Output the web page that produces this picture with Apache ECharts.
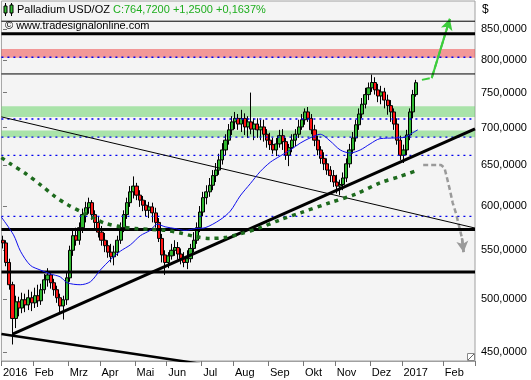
<!DOCTYPE html>
<html><head><meta charset="utf-8">
<script src="https://cdn.jsdelivr.net/npm/echarts@6/dist/echarts.min.js"></script>
<style>html,body{margin:0;padding:0;background:#fff}#c{width:531px;height:380px}</style>
</head><body><div id="c"></div>
<script>
// ---- axis / tick data ----
const monthLabels = ['2016','Feb','Mrz','Apr','Mai','Jun','Jul','Aug','Sep','Okt','Nov','Dez','2017','Feb'];
const monthStart  = [0,10,21,31,42,52,63,73,84,95,105,116,126,139];
const slotCount = 149;
const yTicks = [450,500,550,600,650,700,750,800,850];

// ---- price bars (2-day bars) ----
const opens = [561,558,537,514,481,497,491,499,494,501,
 496,503,498,509,519,524,516,509,501,493,
 499,521,550,566,561,575,590,598,604,590,
 581,570,561,555,548,543,548,561,575,590,
 604,617,624,613,607,601,595,599,592,581,
 563,545,537,544,550,553,546,541,537,541,
 552,561,575,593,610,617,625,637,644,657,
 670,683,697,708,713,705,713,701,708,698,
 705,697,701,691,683,677,670,678,689,681,
 663,673,683,691,701,711,722,713,697,683,
 670,659,652,644,637,629,624,626,634,652,
 670,686,704,719,733,747,757,765,754,745,
 751,739,731,722,705,683,663,670,690,722,
 747];
const closes = [558,537,514,481,497,491,499,494,501,496,
 503,498,509,519,524,516,509,501,493,499,
 521,550,566,561,575,590,598,604,590,581,
 570,561,555,548,543,548,561,575,590,604,
 617,624,613,607,601,595,599,592,581,563,
 545,537,544,550,553,546,541,537,541,552,
 561,575,593,610,617,625,637,644,657,670,
 683,697,708,713,705,713,701,708,698,705,
 697,701,691,683,677,670,678,689,681,663,
 673,683,691,701,711,722,713,697,683,670,
 659,652,644,637,629,624,626,634,652,670,
 686,704,719,733,747,757,765,754,745,751,
 739,731,722,705,683,663,670,690,722,747,
 764.72];
const lows = [552,533,509,457,472,483,486,487,489,488,
 491,492,494,505,512,510,503,496,487,480,
 494,517,544,555,556,569,581,591,584,572,
 564,555,548,542,537,534,544,557,570,585,
 599,609,607,599,594,588,586,581,575,559,
 537,524,531,540,544,540,535,532,530,537,
 548,557,570,588,602,611,619,629,638,651,
 663,677,690,698,697,694,690,686,691,683,
 686,683,681,673,670,665,662,673,670,657,
 649,667,675,686,697,704,708,691,675,663,
 652,644,638,629,623,615,613,619,629,647,
 665,681,697,713,727,739,751,747,736,733,
 727,718,708,697,677,657,653,663,683,713,
 744];
const highs = [566,561,541,517,503,502,506,505,509,507,
 511,514,515,525,531,527,520,513,505,503,
 527,555,572,575,581,597,605,610,607,595,
 588,577,569,561,557,555,566,581,595,610,
 624,636,628,619,612,607,605,604,598,586,
 568,550,548,557,561,559,552,548,550,557,
 570,581,600,617,625,634,644,653,665,679,
 691,705,716,722,719,725,720,716,750,713,
 713,711,711,698,693,686,686,697,698,686,
 678,691,698,711,719,727,729,719,704,689,
 675,667,659,649,644,638,632,641,659,678,
 694,711,727,742,757,765,777,773,763,760,
 757,747,739,727,713,689,677,697,727,754,
 769];

// ---- indicators [slot, price] ----
const maFast = [[-0.5,587],[3.3,567],[5.5,549],[8.6,534],[11.8,529],[14.9,525],[18,522],[20.2,516],[24.3,514],[27.5,517],[30.6,529],[33.8,540],[36.9,549],[40.1,556],[43.2,566],[46.3,572],[48.5,579],[51,576],[54.2,574],[57.3,572],[60.5,574],[63.6,575],[68.3,584],[71.5,594],[74.6,612],[77.8,627],[80.9,642],[84.1,654],[87.2,662],[90.4,670],[93.5,679],[96.6,686],[99.8,691],[102.9,682],[106.1,670],[109.2,666],[112.4,670],[115.5,678],[118.6,685],[123.4,686],[126.6,687],[128.9,693],[130.5,697]];
const maSlow = [[-0.5,660],[2.3,652],[7,640],[12,625],[16.5,611],[20.6,601],[25.3,592],[29,585],[32.2,580],[37,576],[41.6,574],[46.3,573],[51.1,572],[55.8,569],[60.5,565],[65.2,563],[69.9,564],[74.6,568],[80.9,575],[87.2,584],[93.5,592],[102.9,604],[110.8,614],[118.6,628],[124.9,636],[130.6,644]];

// ---- drawings ----
const thickLevels = [842, 573, 527];
const thinLevels = [863, 778];
const dottedLevels = [804, 712, 687, 663, 588];
const greenZones = [[715, 730], [687, 696]];
const redZones = [[803, 817]];
const trendThin = [[-0.5, 715], [148.5, 574.6]];
const trendRise = [[3, 466.5], [148.5, 698.2]];
const trendLow = [[-0.5, 466.5], [62, 440]];
const bullPath = [[131.8, 769], [134.9, 772], [140.6, 867]];
const bearPath = [[132.2, 650.5], [137.8, 650.5], [138.9, 646.7], [139.7, 634], [140.6, 619.2], [141.5, 603.6], [142.5, 591.8], [143.4, 578], [144.4, 563.4], [144.9, 548]];

const FONT = 'Liberation Sans';
const chart = echarts.init(document.getElementById('c'), null, {renderer: 'canvas'});
const isMonth = i => monthStart.indexOf(i) >= 0;
const cats = Array.from({length: slotCount}, (_, i) => String(i));
const span = [-0.5, slotCount - 0.5];

const series = [];
series.push({
  type: 'candlestick', xAxisIndex: 0, z: 2,
  data: opens.map((o, i) => [o, closes[i], lows[i], highs[i]]),
  barWidth: 3.6,
  itemStyle: {color: '#2fb82f', color0: '#ff1414', borderColor: '#000', borderColor0: '#000', borderWidth: 1}
});
function flat(v, style, z) {
  series.push({type: 'line', xAxisIndex: 1, z: z || 5, symbol: 'none', silent: true,
    data: [[span[0], v], [span[1], v]], lineStyle: style});
}
thinLevels.forEach(v => flat(v, {color: '#000', width: 1}));
thickLevels.forEach(v => flat(v, {color: '#000', width: 3}));
dottedLevels.forEach(v => flat(v, {color: '#0000ee', width: 1.3, type: [2, 4]}));
// zones
series.push({type: 'line', xAxisIndex: 1, z: 4, symbol: 'none', silent: true, data: [[0, 700]], lineStyle: {opacity: 0},
  markArea: {silent: true, data: greenZones.map(z => [{yAxis: z[1], itemStyle: {color: 'rgba(100,210,100,0.52)'}}, {yAxis: z[0]}])
    .concat(redZones.map(z => [{yAxis: z[1], itemStyle: {color: 'rgba(240,60,60,0.5)'}}, {yAxis: z[0]}]))}
});
// trend lines
[[trendThin, 1], [trendRise, 3], [trendLow, 2.5]].forEach(([d, w]) => series.push({
  type: 'line', xAxisIndex: 1, z: 5, symbol: 'none', silent: true, data: d, lineStyle: {color: '#000', width: w}
}));
// moving averages
series.push({type: 'line', xAxisIndex: 1, z: 5, symbol: 'none', smooth: 0.3, data: maFast, lineStyle: {color: '#1010ee', width: 1}});
series.push({type: 'line', xAxisIndex: 1, z: 5, symbol: 'none', smooth: 0.3, data: maSlow, lineStyle: {color: '#1d6a1d', width: 3.5, type: [4, 5]}});
// projection arrows
function arrowPath(d, color, w, dash) {
  series.push({type: 'line', xAxisIndex: 1, z: 3, symbol: 'none', silent: true, data: d,
    lineStyle: {color, width: w, type: dash},
    markLine: {silent: true, symbol: ['none', 'arrow'], symbolSize: [9, 11], label: {show: false},
      lineStyle: {color, width: w, type: 'solid'},
      data: [[{coord: d[d.length - 2]}, {coord: d[d.length - 1]}]]}});
}
arrowPath(bullPath, '#3ccc3c', 2, [8, 2]);
arrowPath(bearPath, '#9a9a9a', 2.5, [5, 3]);

chart.setOption({
  animation: false,
  backgroundColor: '#fff',
  textStyle: {fontFamily: FONT},
  grid: {left: 1, top: 1, width: 474, height: 360, show: true, backgroundColor: '#f4f4f4', borderColor: '#a0a0a0', borderWidth: 1},
  xAxis: [{
    type: 'category', data: cats, boundaryGap: true,
    axisLine: {show: true, lineStyle: {color: '#a0a0a0'}},
    axisTick: {show: true, interval: i => isMonth(i), length: 5, lineStyle: {color: '#777'}},
    axisLabel: {interval: i => isMonth(i), formatter: (v, i) => { const k = monthStart.indexOf(i); return k >= 0 ? monthLabels[k] : ''; },
      align: 'left', margin: 6, fontSize: 11, color: '#000', fontFamily: FONT, hideOverlap: false},
    splitLine: {show: false}
  }, {
    type: 'value', min: span[0], max: span[1], show: false
  }],
  yAxis: {
    type: 'log', logBase: 10, min: 442.4, max: 898, position: 'right',
    axisLine: {show: false},
    axisTick: {show: true, customValues: yTicks, length: 4, lineStyle: {color: '#777'}},
    axisLabel: {customValues: yTicks, formatter: v => Number(v).toFixed(4).replace('.', ','), margin: 6, fontSize: 11, color: '#000', fontFamily: FONT},
    splitLine: {show: false}
  },
  series,
  graphic: [
    {type: 'text', left: 17, top: 4, z: 20, style: {
      text: '{a|Palladium USD/OZ }{b|C:764,7200 +1,2500 +0,1637%}',
      rich: {a: {font: '11px "Liberation Sans"', fill: '#000', color: '#000'}, b: {font: '11px "Liberation Sans"', fill: '#1fae1f', color: '#1fae1f'}}}},
    {type: 'text', left: 5, top: 20, z: 20, style: {text: '© www.tradesignalonline.com', font: '11px "Liberation Sans"', fill: '#000'}},
    {type: 'text', left: 482, top: 4, z: 20, style: {text: '$', font: '12px "Liberation Sans"', fill: '#000'}},
    {type: 'line', z: 20, shape: {x1: 5.5, y1: 3, x2: 5.5, y2: 16}, style: {stroke: '#000', lineWidth: 1}},
    {type: 'rect', z: 21, shape: {x: 4, y: 6, width: 3, height: 7}, style: {fill: '#33c033', stroke: '#000', lineWidth: 1}},
    {type: 'line', z: 20, shape: {x1: 11.5, y1: 3, x2: 11.5, y2: 16}, style: {stroke: '#000', lineWidth: 1}},
    {type: 'rect', z: 21, shape: {x: 10, y: 5, width: 3, height: 8}, style: {fill: '#33c033', stroke: '#000', lineWidth: 1}},
    {type: 'rect', z: 20, shape: {x: 467.5, y: 353.5, width: 7, height: 7}, style: {fill: '#fff', stroke: '#888', lineWidth: 1}},
    {type: 'line', z: 21, shape: {x1: 468, y1: 360, x2: 474, y2: 354}, style: {stroke: '#666', lineWidth: 1}}
  ]
});
</script></body></html>
